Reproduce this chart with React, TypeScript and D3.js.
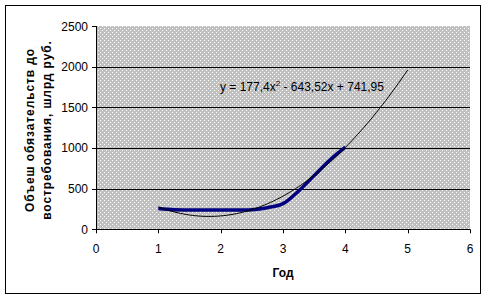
import React from "react";
import * as d3 from "d3";

const years = [1, 1.25, 1.5, 1.75, 2, 2.25, 2.5, 2.75, 3, 3.25, 3.5, 3.75, 4];
const volumes = [255, 240, 238, 238, 238, 238, 240, 266, 315, 470, 660, 850, 1010];
const trendCoefs = [177.4, -643.52, 741.95];
const trendRange = [1, 5];
const xTicks = [0, 1, 2, 3, 4, 5, 6];
const yTicks = [0, 500, 1000, 1500, 2000, 2500];
const yTitleLines = ["Объеш обязательств до", "востребования, шлрд руб."];
const xTitle = "Год";
const equation = "y = 177,4x";
const equationRest = " - 643,52x + 741,95";

export default function App() {
  const left = 96, right = 470, top = 26, bottom = 229.3;
  const x = d3.scaleLinear().domain([0, 6]).range([left, right]);
  const y = d3.scaleLinear().domain([0, 2500]).range([bottom, top]);
  const font = "Arial, 'Liberation Sans', sans-serif";

  const data = years.map((yr, i) => [yr, volumes[i]] as [number, number]);
  const line = d3.line<[number, number]>()
    .x(d => x(d[0])).y(d => y(d[1]))
    .curve(d3.curveCatmullRom.alpha(0.5));

  const trendPts: [number, number][] = [];
  const n = 80;
  for (let i = 0; i <= n; i++) {
    const t = trendRange[0] + (trendRange[1] - trendRange[0]) * i / n;
    trendPts.push([t, trendCoefs[0] * t * t + trendCoefs[1] * t + trendCoefs[2]]);
  }
  const trendLine = d3.line<[number, number]>().x(d => x(d[0])).y(d => y(d[1]));

  return (
    <svg width={491} height={300} style={{ position: "absolute", left: 0, top: 0 }}>
      <defs>
        <pattern id="dots" width={4} height={4} patternUnits="userSpaceOnUse">
          <rect width={4} height={4} fill="#c0c0c0" />
          <rect x={0} y={0} width={1} height={1} fill="#ffffff" />
          <rect x={2} y={2} width={1} height={1} fill="#ffffff" />
        </pattern>
        <clipPath id="plotclip">
          <rect x={left} y={top} width={right - left} height={bottom - top} />
        </clipPath>
      </defs>
      <rect x={0} y={0} width={491} height={300} fill="#fff" />
      <rect x={5.5} y={5.5} width={475} height={288} fill="#fff" stroke="#000" strokeWidth={1} />
      <rect x={left} y={top} width={right - left} height={bottom - top} fill="url(#dots)" />
      {yTicks.filter(t => t > 0 && t < 2500).map(t => (
        <line key={t} x1={left} x2={right} y1={Math.round(y(t)) + 0.5} y2={Math.round(y(t)) + 0.5} stroke="#000" strokeWidth={1} />
      ))}
      <line x1={left + 0.5} x2={left + 0.5} y1={top} y2={bottom} stroke="#000" />
      <line x1={left} x2={right} y1={Math.round(bottom) + 0.5} y2={Math.round(bottom) + 0.5} stroke="#000" />
      {yTicks.map(t => (
        <g key={t}>
          <line x1={left - 4} x2={left} y1={Math.round(y(t)) + 0.5} y2={Math.round(y(t)) + 0.5} stroke="#000" />
          <text x={left - 8} y={y(t) + 4.5} textAnchor="end" fontFamily={font} fontSize={12} fill="#000">{t}</text>
        </g>
      ))}
      {xTicks.map(t => (
        <g key={t}>
          <line x1={Math.round(x(t)) + 0.5} x2={Math.round(x(t)) + 0.5} y1={bottom} y2={bottom + 4} stroke="#000" />
          <text x={x(t)} y={253} textAnchor="middle" fontFamily={font} fontSize={12} fill="#000">{t}</text>
        </g>
      ))}
      <g clipPath="url(#plotclip)">
        <path d={line(data) || ""} fill="none" stroke="#000080" strokeWidth={3.5} strokeLinejoin="round" />
        <path d={trendLine(trendPts) || ""} fill="none" stroke="#000" strokeWidth={1} />
      </g>
      <text x={220} y={91} fontFamily={font} fontSize={12} fill="#000">
        {equation}
        <tspan dy={-5} fontSize={8}>2</tspan>
        <tspan dy={5}>{equationRest}</tspan>
      </text>
      <text x={283} y={277} textAnchor="middle" fontFamily={font} fontSize={12} fontWeight="bold" fill="#000">{xTitle}</text>
      {yTitleLines.map((s, i) => (
        <text key={i} transform={`translate(${34 + i * 17},${130}) rotate(-90)`} textAnchor="middle" fontFamily={font} fontSize={12} fontWeight="bold" letterSpacing={0.9} fill="#000">{s}</text>
      ))}
    </svg>
  );
}
